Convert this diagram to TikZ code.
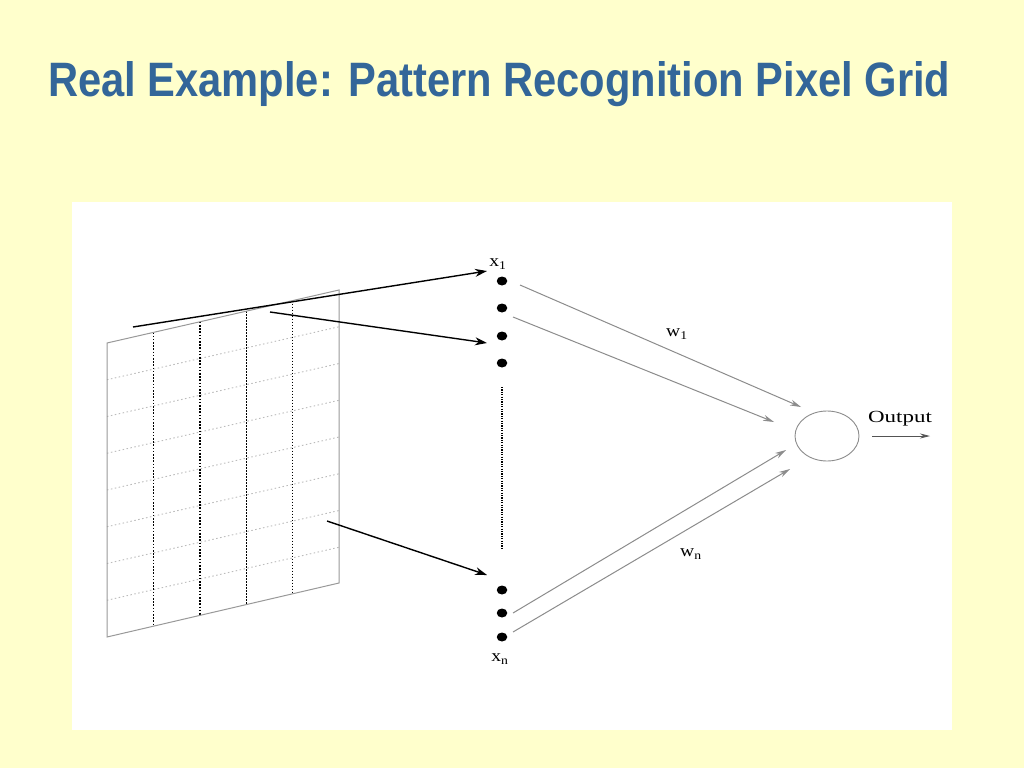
\documentclass[tikz,border=0pt]{standalone}
\usepackage{fontspec}
\setmainfont{Liberation Serif}
\newfontfamily\titlefont{Liberation Sans}
\usetikzlibrary{arrows.meta,shapes.geometric}
\definecolor{bgyellow}{HTML}{FFFFCC}
\definecolor{titleblue}{HTML}{336699}
\definecolor{edgegray}{HTML}{999999}
\definecolor{gridgray}{HTML}{BBBBBB}
\definecolor{wgray}{HTML}{8C8C8C}
\tikzset{
  inputdot/.style={ellipse,fill=black,inner sep=0pt,minimum width=10.5pt,minimum height=9pt},
  lbl/.style={font=\fontsize{17}{17}\selectfont,inner sep=0pt},
  blackarrow/.style={line width=1.4pt,-{Stealth[length=12pt,width=8pt]}},
  grayarrow/.style={wgray,line width=1pt,-{Stealth[length=11pt,width=6pt]}},
  gridh/.style={gridgray,line width=0.9pt,dash pattern=on 1.5pt off 2.5pt},
  gridvthick/.style={black,line width=1.7pt,dash pattern=on 1.6pt off 1.6pt},
  gridvthin/.style={black,line width=0.9pt,dash pattern=on 1.5pt off 1.5pt},
}
\begin{document}
\begin{tikzpicture}[x=1pt,y=-1pt]
\useasboundingbox (0,0) rectangle (1024,768);
\fill[bgyellow] (0,0) rectangle (1024,768);
% title
\node[anchor=base west,inner sep=0pt,text=titleblue] (title) at (48,96)
  {\resizebox{902pt}{35pt}{\titlefont\bfseries Real Example: Pattern Recognition Pixel Grid}};
% white panel
\fill[white] (72,202) rectangle (952,730);
% pixel grid
\foreach \k in {1,...,7}{
  \draw[gridh] (107,{343+36.75*\k}) -- (339,{290+36.75*\k});
}
\foreach \i/\s in {1/gridvthick,2/gridvthick,3/gridvthin,4/gridvthin}{
  \draw[\s] ({107+46.4*\i},{343-10.6*\i}) -- ({107+46.4*\i},{637-10.6*\i});
}
\draw[edgegray,line width=1pt] (107,343) -- (339,290) -- (339,583) -- (107,637) -- cycle;
% arrow starts on the grid
\coordinate (g1) at (133,327);
\coordinate (g2) at (270,312);
\coordinate (g3) at (327,521);
% input dots
\node[inputdot] (d1) at (502,281) {};
\node[inputdot] (d2) at (502,308) {};
\node[inputdot] (d3) at (502,336) {};
\node[inputdot] (d4) at (502,363) {};
\node[inputdot] (d5) at (502,590) {};
\node[inputdot] (d6) at (502,613) {};
\node[inputdot] (d7) at (502,637) {};
\draw[black,line width=1.4pt,dash pattern=on 1.2pt off 1.2pt] (502,387) -- (502,550);
% labels
\node[lbl] (x1) at (498,264) {\scalebox{1.15}[1]{x\textsubscript{1}}};
\node[lbl] (xn) at (500,659) {\scalebox{1.15}[1]{x\textsubscript{n}}};
\node[lbl] (w1) at (677,334) {\scalebox{1.15}[1]{w\textsubscript{1}}};
\node[lbl] (wn) at (691,554) {\scalebox{1.15}[1]{w\textsubscript{n}}};
% black arrows
\draw[blackarrow] (g1) -- (487,271);
\draw[blackarrow] (g2) -- (487,343);
\draw[blackarrow] (g3) -- (487,575);
% neuron
\node[ellipse,draw=wgray,line width=0.9pt,minimum width=64pt,minimum height=50pt,inner sep=0pt] (neuron) at (827,436) {};
% gray arrows
\coordinate (a1s) at (520,285);
\coordinate (a2s) at (513,317);
\coordinate (a3s) at (513,613);
\coordinate (a4s) at (513,632);
\draw[grayarrow] (a1s) -- (801,407);
\draw[grayarrow] (a2s) -- (774,422);
\draw[grayarrow] (a3s) -- (786,450);
\draw[grayarrow] (a4s) -- (790,469);
% output
\node[lbl,anchor=base] (out) at (900,422) {\scalebox{1.35}[1]{Output}};
\coordinate (o1) at (872,436);
\coordinate (o2) at (930,436);
\draw[wgray!60!black,line width=0.9pt,-{Stealth[length=10pt,width=5pt]}] (o1) -- (o2);
\end{tikzpicture}
\end{document}
